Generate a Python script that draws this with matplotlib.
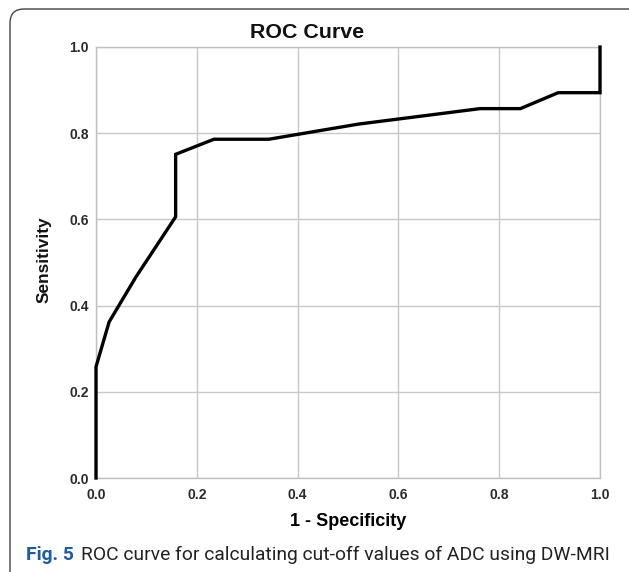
import matplotlib
matplotlib.use("Agg")
from matplotlib import pyplot as plt
from matplotlib.patches import FancyBboxPatch

# ROC points
fpr = [0.0, 0.0, 0.026, 0.079, 0.158, 0.158, 0.234, 0.343, 0.52, 0.762, 0.842, 0.917, 1.0, 1.0]
tpr = [0.0, 0.258, 0.362, 0.466, 0.606, 0.751, 0.786, 0.786, 0.821, 0.857, 0.857, 0.894, 0.894, 1.0]
ticks = [0.0, 0.2, 0.4, 0.6, 0.8, 1.0]
tick_labels = ["0.0", "0.2", "0.4", "0.6", "0.8", "1.0"]
caption_head = "Fig. 5"
caption_body = "ROC curve for calculating cut-off values of ADC using DW-MRI"

plt.rcParams["font.family"] = ["Liberation Sans", "DejaVu Sans"]

W, H = 629, 572
fig = plt.figure(figsize=(W / 100, H / 100), dpi=100)
ax = fig.add_axes([96 / W, 1 - 478 / H, (600 - 96) / W, (478 - 47) / H])

ax.plot(fpr, tpr, color="black", linewidth=2.4, solid_joinstyle="miter", clip_on=False, zorder=3)

ax.set_xlim(0, 1)
ax.set_ylim(0, 1)
ax.set_xticks(ticks)
ax.set_xticklabels(tick_labels)
ax.set_yticks(ticks)
ax.set_yticklabels(tick_labels)
ax.tick_params(length=0, labelsize=10, colors="#2a2a2a")
ax.tick_params(axis="x", pad=7)
ax.tick_params(axis="y", pad=5)
for lab in ax.get_xticklabels() + ax.get_yticklabels():
    lab.set_fontweight("bold")
ax.grid(True, color="#c8c8c8", linewidth=1.0)
for s in ax.spines.values():
    s.set_color("#c0c0c0")
    s.set_linewidth(1.0)

# title sits a little left of the plot centre, as in SPSS output
fig.text(307 / W, 1 - 32 / H, "ROC Curve", fontsize=15.4, fontweight="bold",
         ha="center", va="center", color="#111111")
ax.set_xlabel("1 - Specificity", fontsize=13, fontweight="bold", labelpad=8)
fig.text(44 / W, 1 - 260 / H, "Sensitivity", fontsize=12.4, fontweight="bold",
         rotation=90, ha="center", va="center", color="#111111")

# outer rounded frame (right and bottom edges run off the crop)
box = FancyBboxPatch((0.10, -0.2), 6.5, 5.72 - 0.09 + 0.2,
                     boxstyle="round,pad=0,rounding_size=0.14",
                     transform=fig.dpi_scale_trans, fill=False, edgecolor="#444444",
                     linewidth=1.0, clip_on=False)
fig.patches.append(box)

# caption, sized so it runs from x=26 to x=612
cap_font = ["Roboto", "DejaVu Sans"]
size = 14.0
for _ in range(3):
    cap1 = fig.text(26 / W, 1 - 560 / H, caption_head, fontsize=size, fontweight="bold",
                    color="#1f5c9e", family=cap_font, va="baseline")
    fig.canvas.draw()
    bb = cap1.get_window_extent()
    cap2 = fig.text((bb.x1 + 0.5 * size) / W, 1 - 560 / H, caption_body,
                    fontsize=size, color="#222222", family=cap_font, va="baseline")
    fig.canvas.draw()
    end = cap2.get_window_extent().x1
    cap1.remove()
    cap2.remove()
    size = size * (612 - 26) / (end - 26)

cap1 = fig.text(26 / W, 1 - 560 / H, caption_head, fontsize=size, fontweight="bold",
                color="#1f5c9e", family=cap_font, va="baseline")
fig.canvas.draw()
bb = cap1.get_window_extent()
fig.text((bb.x1 + 0.5 * size) / W, 1 - 560 / H, caption_body,
         fontsize=size, color="#222222", family=cap_font, va="baseline")

plt.savefig("out.png", dpi=100)
